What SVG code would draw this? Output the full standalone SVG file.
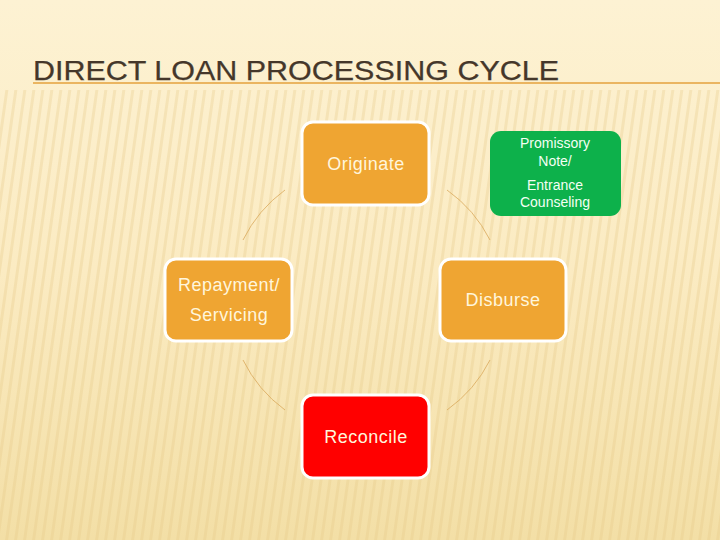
<svg xmlns="http://www.w3.org/2000/svg" width="720" height="540" viewBox="0 0 720 540">
  <defs>
    <linearGradient id="bg" x1="0" y1="0" x2="0" y2="1">
      <stop offset="0" stop-color="#FDF2D3"/>
      <stop offset="0.5" stop-color="#FBEBC2"/>
      <stop offset="1" stop-color="#F3DFA6"/>
    </linearGradient>
    <pattern id="stripes" width="9" height="540" patternUnits="userSpaceOnUse" patternTransform="skewX(-8)">
      <rect x="0" y="0" width="3" height="540" fill="#E6C985" opacity="0.3"/>
    </pattern>
    <style>
      .box { stroke: #FFFFFF; stroke-width: 3; }
      .orange { fill: #EFA532; }
      .lbl { font-family: "Liberation Sans", Arial, sans-serif; fill: #FFF6DC; text-anchor: middle; }
      .big { font-size: 18px; letter-spacing: 0.5px; }
      .small { font-size: 14px; fill: #F4FFF4; }
      .arc { fill: none; stroke: #D9A85A; stroke-width: 0.8; }
    </style>
  </defs>
  <rect width="720" height="540" fill="url(#bg)"/>
  <rect x="0" y="90" width="720" height="450" fill="url(#stripes)"/>

  <g id="title">
    <text x="33" y="80" font-family="'Liberation Sans', Arial, sans-serif" font-size="28" fill="#45372A" stroke="#45372A" stroke-width="0.25" textLength="526" lengthAdjust="spacingAndGlyphs">DIRECT LOAN PROCESSING CYCLE</text>
    <line x1="33" y1="83" x2="720" y2="83" stroke="#E5A23C" stroke-width="1.5"/>
  </g>

  <g id="connectors">
    <path class="arc" d="M285,190 A137,137 0 0 0 243,240"/>
    <path class="arc" d="M447,190 A137,137 0 0 1 490,240"/>
    <path class="arc" d="M243,360 A137,137 0 0 0 285,410"/>
    <path class="arc" d="M447,410 A137,137 0 0 0 490,360"/>
  </g>

  <g id="originate">
    <rect class="box orange" x="302" y="122" width="127" height="83" rx="11"/>
    <text class="lbl big" x="366" y="170">Originate</text>
  </g>

  <g id="promissory">
    <rect x="490" y="131" width="131" height="85" rx="11" fill="#0DB14B"/>
    <text class="lbl small" x="555" y="148">Promissory</text>
    <text class="lbl small" x="555" y="166">Note/</text>
    <text class="lbl small" x="555" y="190">Entrance</text>
    <text class="lbl small" x="555" y="207">Counseling</text>
  </g>

  <g id="repayment">
    <rect class="box orange" x="165" y="259" width="127" height="82" rx="11"/>
    <text class="lbl big" x="229" y="291" letter-spacing="1">Repayment/</text>
    <text class="lbl big" x="229" y="321">Servicing</text>
  </g>

  <g id="disburse">
    <rect class="box orange" x="440" y="259" width="126" height="82" rx="11"/>
    <text class="lbl big" x="503" y="306">Disburse</text>
  </g>

  <g id="reconcile">
    <rect class="box" x="302" y="395" width="127" height="83" rx="11" fill="#FF0000"/>
    <text class="lbl big" x="366" y="443">Reconcile</text>
  </g>
</svg>
